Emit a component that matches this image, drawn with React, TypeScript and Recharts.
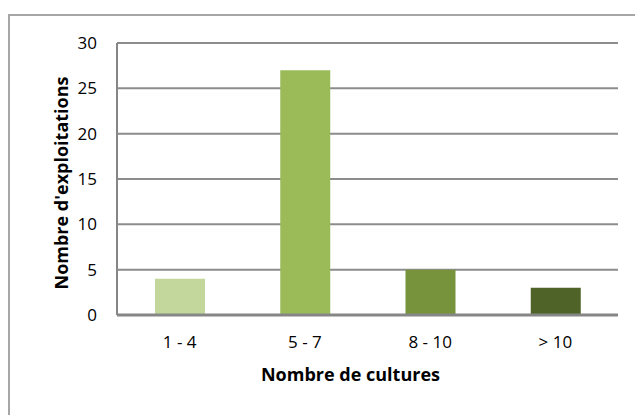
import React from 'react';
import { BarChart, Bar, XAxis, YAxis, CartesianGrid, Cell, Label } from 'recharts';

// categories and counts
const categories = ['1 - 4', '5 - 7', '8 - 10', '> 10'];
const exploitations = [4, 27, 5, 3];
const barColors = ['#c3d69b', '#9bbb59', '#77933c', '#4f6228'];
const yTicks = [0, 5, 10, 15, 20, 25, 30];

const data = categories.map((name, i) => ({ name, value: exploitations[i] }));

const FONT = '"Open Sans", "Liberation Sans", sans-serif';

const XTitle = (props: any) => {
  const vb = props.viewBox;
  return (
    <text
      x={vb.x + vb.width / 2 - 17}
      y={vb.y + vb.height + 6}
      textAnchor="middle"
      fontFamily={FONT}
      fontSize={18}
      fontWeight="bold"
      fill="#000"
    >
      Nombre de cultures
    </text>
  );
};

const YTitle = (props: any) => {
  const vb = props.viewBox;
  const x = vb.x + 4;
  const y = vb.y + vb.height / 2 + 4;
  return (
    <text
      x={x}
      y={y}
      transform={`rotate(-90, ${x}, ${y})`}
      textAnchor="middle"
      dominantBaseline="central"
      fontFamily={FONT}
      fontSize={18}
      fontWeight="bold"
      fill="#000"
    >
      Nombre d'exploitations
    </text>
  );
};

const App: React.FC = () => {
  return (
    <div style={{ position: 'absolute', left: 0, top: 0, width: 635, height: 415, overflow: 'hidden', background: '#fff' }}>
      <div
        style={{
          position: 'absolute',
          left: 8,
          top: 14,
          width: 700,
          height: 500,
          borderTop: '2px solid #a6a6a6',
          borderLeft: '2px solid #a6a6a6',
        }}
      />
      <div style={{ position: 'absolute', left: 0, top: 0 }}>
        <BarChart width={635} height={415} data={data} margin={{ top: 43, right: 17, left: 57, bottom: 40 }}>
          <CartesianGrid vertical={false} stroke="#8c8c8c" strokeWidth={2} />
          <XAxis
            dataKey="name"
            height={60}
            tickLine={false}
            tickSize={0}
            tickMargin={21}
            axisLine={{ stroke: '#868686', strokeWidth: 3 }}
            tick={{ fill: '#000', fontSize: 17, fontFamily: FONT }}
          >
            <Label content={XTitle} />
          </XAxis>
          <YAxis
            width={60}
            domain={[0, 30]}
            ticks={yTicks}
            interval={0}
            tickLine={false}
            tickSize={0}
            tickMargin={20}
            axisLine={{ stroke: '#868686', strokeWidth: 2 }}
            tick={{ fill: '#000', fontSize: 17, fontFamily: FONT }}
          >
            <Label content={YTitle} />
          </YAxis>
          <Bar dataKey="value" barSize={50} isAnimationActive={false}>
            {data.map((entry, index) => (
              <Cell key={`cell-${index}`} fill={barColors[index]} />
            ))}
          </Bar>
        </BarChart>
      </div>
    </div>
  );
};

export default App;
